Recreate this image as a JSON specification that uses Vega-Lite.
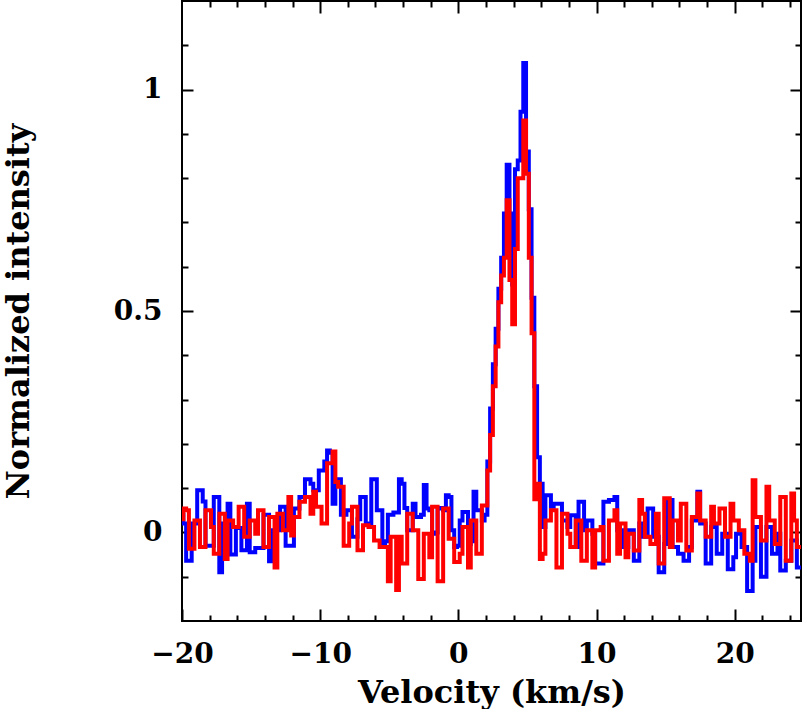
{
"$schema":"https://vega.github.io/schema/vega-lite/v6.json",
"width":619,"height":620,"autosize":"none",
"padding":{"left":182,"top":1,"right":3,"bottom":88},
"background":"white",
"config":{"view":{"stroke":"#000","strokeWidth":2},
"axis":{"domain":false,"grid":false,"tickColor":"#000","tickWidth":2,"labelColor":"#000","titleColor":"#000","labelFont":"DejaVu Serif","labelFontSize":28,"labelFontWeight":"bold","titleFont":"DejaVu Serif","titleFontSize":32,"titleFontWeight":"bold","labelFlush":false,"labelOverlap":false}},
"data":{"values":[
{"v":-20.0,"blue":0.04,"red":0.03},{"v":-19.8,"blue":0.02,"red":0.054},{"v":-19.6,"blue":-0.064,"red":0.05},{"v":-19.4,"blue":-0.064,"red":-0.037},{"v":-19.2,"blue":0.02,"red":-0.037},
{"v":-19.0,"blue":0.02,"red":0.027},{"v":-18.8,"blue":0.095,"red":0.027},{"v":-18.6,"blue":0.095,"red":-0.033},{"v":-18.4,"blue":0.07,"red":-0.033},{"v":-18.2,"blue":-0.03,"red":0.05},
{"v":-18.0,"blue":-0.03,"red":0.05},{"v":-17.8,"blue":-0.03,"red":0.012},{"v":-17.6,"blue":0.08,"red":-0.048},{"v":-17.4,"blue":0.08,"red":-0.048},{"v":-17.2,"blue":-0.09,"red":0.042},
{"v":-17.0,"blue":0.02,"red":0.042},{"v":-16.8,"blue":0.02,"red":-0.06},{"v":-16.6,"blue":0.065,"red":0.027},{"v":-16.4,"blue":-0.05,"red":0.027},{"v":-16.2,"blue":-0.05,"red":0.012},
{"v":-16.0,"blue":0.01,"red":0.012},{"v":-15.8,"blue":0.01,"red":0.058},{"v":-15.6,"blue":-0.04,"red":0.058},{"v":-15.4,"blue":-0.04,"red":-0.01},{"v":-15.2,"blue":0.065,"red":-0.01},
{"v":-15.0,"blue":-0.045,"red":0.027},{"v":-14.8,"blue":-0.045,"red":0.027},{"v":-14.6,"blue":-0.035,"red":-0.003},{"v":-14.4,"blue":-0.035,"red":0.05},{"v":-14.2,"blue":-0.035,"red":0.05},
{"v":-14.0,"blue":0.04,"red":-0.033},{"v":-13.8,"blue":0.04,"red":-0.033},{"v":-13.6,"blue":-0.065,"red":0.035},{"v":-13.4,"blue":0.005,"red":0.035},{"v":-13.2,"blue":0.005,"red":-0.079},
{"v":-13.0,"blue":0.005,"red":0.042},{"v":-12.8,"blue":0.058,"red":0.042},{"v":-12.6,"blue":0.058,"red":0.005},{"v":-12.4,"blue":-0.03,"red":0.005},{"v":-12.2,"blue":-0.03,"red":0.08},
{"v":-12.0,"blue":-0.03,"red":-0.007},{"v":-11.8,"blue":0.054,"red":0.035},{"v":-11.6,"blue":0.054,"red":0.035},{"v":-11.4,"blue":0.08,"red":0.069},{"v":-11.2,"blue":0.08,"red":0.069},
{"v":-11.0,"blue":0.12,"red":0.08},{"v":-10.8,"blue":0.12,"red":0.08},{"v":-10.6,"blue":0.11,"red":0.042},{"v":-10.4,"blue":0.095,"red":0.092},{"v":-10.2,"blue":0.095,"red":0.058},
{"v":-10.0,"blue":0.14,"red":0.058},{"v":-9.8,"blue":0.14,"red":0.02},{"v":-9.6,"blue":0.16,"red":0.02},{"v":-9.4,"blue":0.185,"red":0.156},{"v":-9.2,"blue":0.18,"red":0.156},
{"v":-9.0,"blue":0.065,"red":0.183},{"v":-8.8,"blue":0.12,"red":0.114},{"v":-8.6,"blue":0.12,"red":0.103},{"v":-8.4,"blue":0.04,"red":0.103},{"v":-8.2,"blue":0.04,"red":-0.03},
{"v":-8.0,"blue":0.05,"red":-0.03},{"v":-7.8,"blue":0.05,"red":0.02},{"v":-7.6,"blue":-0.01,"red":0.058},{"v":-7.4,"blue":-0.01,"red":0.058},{"v":-7.2,"blue":0.03,"red":-0.04},
{"v":-7.0,"blue":0.08,"red":-0.04},{"v":-6.8,"blue":0.08,"red":0.016},{"v":-6.6,"blue":0.02,"red":0.016},{"v":-6.4,"blue":0.02,"red":0.012},{"v":-6.2,"blue":0.12,"red":0.012},
{"v":-6.0,"blue":0.12,"red":-0.018},{"v":-5.8,"blue":0.05,"red":-0.018},{"v":-5.6,"blue":0.05,"red":-0.033},{"v":-5.4,"blue":-0.025,"red":-0.033},{"v":-5.2,"blue":-0.02,"red":-0.033},
{"v":-5.0,"blue":0.04,"red":-0.11},{"v":-4.8,"blue":0.04,"red":-0.01},{"v":-4.6,"blue":0.045,"red":-0.01},{"v":-4.4,"blue":0.045,"red":-0.13},{"v":-4.2,"blue":0.12,"red":-0.01},
{"v":-4.0,"blue":0.11,"red":-0.07},{"v":-3.8,"blue":0.055,"red":-0.07},{"v":-3.6,"blue":0.005,"red":0.042},{"v":-3.4,"blue":0.005,"red":0.042},{"v":-3.2,"blue":0.065,"red":0.005},
{"v":-3.0,"blue":0.035,"red":0.005},{"v":-2.8,"blue":0.035,"red":-0.105},{"v":-2.6,"blue":0.04,"red":-0.105},{"v":-2.4,"blue":0.107,"red":-0.003},{"v":-2.2,"blue":0.054,"red":-0.003},
{"v":-2.0,"blue":0.05,"red":-0.056},{"v":-1.8,"blue":-0.003,"red":0.058},{"v":-1.6,"blue":0.0,"red":0.058},{"v":-1.4,"blue":0.054,"red":-0.11},{"v":-1.2,"blue":0.055,"red":-0.11},
{"v":-1.0,"blue":0.05,"red":0.054},{"v":-0.8,"blue":0.084,"red":0.054},{"v":-0.6,"blue":0.08,"red":-0.014},{"v":-0.4,"blue":0.005,"red":-0.014},{"v":-0.2,"blue":-0.033,"red":-0.067},
{"v":0.0,"blue":-0.03,"red":-0.067},{"v":0.2,"blue":0.027,"red":-0.048},{"v":0.4,"blue":0.046,"red":0.012},{"v":0.6,"blue":0.046,"red":0.012},{"v":0.8,"blue":-0.026,"red":-0.079},
{"v":1.0,"blue":-0.02,"red":0.027},{"v":1.2,"blue":0.092,"red":0.027},{"v":1.4,"blue":0.05,"red":-0.048},{"v":1.6,"blue":0.05,"red":-0.048},{"v":1.8,"blue":0.027,"red":0.061},
{"v":2.0,"blue":0.04,"red":0.061},{"v":2.2,"blue":0.16,"red":0.14},{"v":2.4,"blue":0.28,"red":0.22},{"v":2.6,"blue":0.38,"red":0.33},{"v":2.8,"blue":0.46,"red":0.42},
{"v":3.0,"blue":0.55,"red":0.52},{"v":3.2,"blue":0.62,"red":0.58},{"v":3.4,"blue":0.72,"red":0.62},{"v":3.6,"blue":0.83,"red":0.75},{"v":3.8,"blue":0.72,"red":0.57},
{"v":4.0,"blue":0.56,"red":0.47},{"v":4.2,"blue":0.82,"red":0.64},{"v":4.4,"blue":0.84,"red":0.80},{"v":4.6,"blue":0.95,"red":0.80},{"v":4.8,"blue":1.06,"red":0.93},
{"v":5.0,"blue":0.86,"red":0.81},{"v":5.2,"blue":0.73,"red":0.62},{"v":5.4,"blue":0.53,"red":0.45},{"v":5.6,"blue":0.33,"red":0.075},{"v":5.8,"blue":0.17,"red":0.11},
{"v":6.0,"blue":0.11,"red":-0.06},{"v":6.2,"blue":0.012,"red":-0.048},{"v":6.4,"blue":0.084,"red":0.027},{"v":6.6,"blue":0.084,"red":0.027},{"v":6.8,"blue":0.058,"red":0.05},
{"v":7.0,"blue":0.065,"red":0.05},{"v":7.2,"blue":0.065,"red":-0.079},{"v":7.4,"blue":0.065,"red":-0.079},{"v":7.6,"blue":0.027,"red":0.042},{"v":7.8,"blue":0.027,"red":0.042},
{"v":8.0,"blue":0.012,"red":-0.003},{"v":8.2,"blue":0.039,"red":-0.033},{"v":8.4,"blue":0.039,"red":-0.033},{"v":8.6,"blue":-0.033,"red":0.027},{"v":8.8,"blue":0.069,"red":0.027},
{"v":9.0,"blue":0.069,"red":-0.064},{"v":9.2,"blue":0.005,"red":-0.064},{"v":9.4,"blue":0.027,"red":0.005},{"v":9.6,"blue":0.027,"red":0.005},{"v":9.8,"blue":-0.003,"red":-0.079},
{"v":10.0,"blue":-0.07,"red":0.005},{"v":10.2,"blue":-0.07,"red":0.005},{"v":10.4,"blue":-0.07,"red":0.012},{"v":10.6,"blue":0.069,"red":-0.064},{"v":10.8,"blue":0.069,"red":-0.064},
{"v":11.0,"blue":0.073,"red":0.027},{"v":11.2,"blue":0.073,"red":0.027},{"v":11.4,"blue":0.08,"red":0.05},{"v":11.6,"blue":0.005,"red":-0.048},{"v":11.8,"blue":0.005,"red":0.02},
{"v":12.0,"blue":-0.033,"red":0.02},{"v":12.2,"blue":-0.033,"red":-0.056},{"v":12.4,"blue":0.005,"red":-0.003},{"v":12.6,"blue":0.005,"red":-0.003},{"v":12.8,"blue":-0.064,"red":-0.041},
{"v":13.0,"blue":-0.064,"red":-0.041},{"v":13.2,"blue":0.02,"red":0.073},{"v":13.4,"blue":-0.01,"red":0.042},{"v":13.6,"blue":-0.01,"red":-0.01},{"v":13.8,"blue":0.054,"red":-0.01},
{"v":14.0,"blue":0.054,"red":-0.026},{"v":14.2,"blue":-0.01,"red":-0.026},{"v":14.4,"blue":-0.01,"red":0.042},{"v":14.6,"blue":-0.09,"red":-0.07},{"v":14.8,"blue":-0.09,"red":-0.07},
{"v":15.0,"blue":-0.026,"red":0.077},{"v":15.2,"blue":0.073,"red":0.077},{"v":15.4,"blue":0.073,"red":-0.033},{"v":15.6,"blue":-0.033,"red":0.027},{"v":15.8,"blue":-0.033,"red":0.027},
{"v":16.0,"blue":-0.048,"red":-0.018},{"v":16.2,"blue":-0.048,"red":0.065},{"v":16.4,"blue":-0.064,"red":0.065},{"v":16.6,"blue":-0.064,"red":-0.041},{"v":16.8,"blue":-0.033,"red":-0.041},
{"v":17.0,"blue":0.027,"red":0.035},{"v":17.2,"blue":0.027,"red":0.035},{"v":17.4,"blue":0.092,"red":0.088},{"v":17.6,"blue":0.02,"red":0.027},{"v":17.8,"blue":0.02,"red":0.027},
{"v":18.0,"blue":-0.07,"red":-0.01},{"v":18.2,"blue":-0.07,"red":-0.01},{"v":18.4,"blue":0.012,"red":0.058},{"v":18.6,"blue":0.012,"red":0.02},{"v":18.8,"blue":-0.048,"red":0.02},
{"v":19.0,"blue":-0.048,"red":0.054},{"v":19.2,"blue":-0.003,"red":0.054},{"v":19.4,"blue":-0.003,"red":-0.01},{"v":19.6,"blue":-0.083,"red":-0.01},{"v":19.8,"blue":-0.083,"red":0.065},
{"v":20.0,"blue":-0.056,"red":0.027},{"v":20.2,"blue":-0.003,"red":0.027},{"v":20.4,"blue":-0.003,"red":0.005},{"v":20.6,"blue":-0.033,"red":0.005},{"v":20.8,"blue":-0.033,"red":-0.048},
{"v":21.0,"blue":-0.132,"red":-0.048},{"v":21.2,"blue":-0.132,"red":-0.064},{"v":21.4,"blue":-0.064,"red":0.118},{"v":21.6,"blue":0.012,"red":0.035},{"v":21.8,"blue":0.012,"red":0.035},
{"v":22.0,"blue":-0.10,"red":-0.018},{"v":22.2,"blue":-0.10,"red":-0.018},{"v":22.4,"blue":0.012,"red":0.103},{"v":22.6,"blue":0.012,"red":0.027},{"v":22.8,"blue":-0.048,"red":0.027},
{"v":23.0,"blue":-0.048,"red":-0.026},{"v":23.2,"blue":-0.003,"red":-0.026},{"v":23.4,"blue":-0.086,"red":0.08},{"v":23.6,"blue":-0.086,"red":0.08},{"v":23.8,"blue":-0.064,"red":-0.064},
{"v":24.0,"blue":-0.064,"red":-0.064},{"v":24.2,"blue":-0.018,"red":0.088},{"v":24.4,"blue":-0.018,"red":0.027},{"v":24.6,"blue":-0.079,"red":-0.033},{"v":24.8,"blue":-0.079,"red":-0.033}
]},
"resolve":{"axis":{"x":"independent","y":"independent"}},
"layer":[
{"mark":{"type":"line","interpolate":"step","color":"#0000ff","strokeWidth":4,"clip":true},
"encoding":{
"x":{"field":"v","type":"quantitative","scale":{"domain":[-20,24.8],"nice":false,"zero":false},
"axis":{"orient":"bottom","title":"Velocity (km/s)","values":[-20,-18,-16,-14,-12,-10,-8,-6,-4,-2,0,2,4,6,8,10,12,14,16,18,20,22,24],
"labelExpr":"datum.value % 10 === 0 ? datum.label : ''","tickSize":{"condition":{"test":"datum.value % 10 === 0","value":-12},"value":-6},"labelPadding":31,"titlePadding":3}},
"y":{"field":"blue","type":"quantitative","scale":{"domain":[-0.2,1.2],"nice":false,"zero":false},
"axis":{"orient":"left","title":"Normalized intensity","values":[-0.1,0,0.1,0.2,0.3,0.4,0.5,0.6,0.7,0.8,0.9,1,1.1],
"labelExpr":"datum.value === 0 ? '0' : datum.value === 0.5 ? '0.5' : datum.value === 1 ? '1' : ''","tickSize":{"condition":{"test":"datum.value === 0 || datum.value === 0.5 || datum.value === 1","value":-11},"value":-6},"labelPadding":31,"titleX":-164,"titleBaseline":"middle"}}}},
{"mark":{"type":"line","interpolate":"step","color":"#ff0000","strokeWidth":4,"clip":true},
"encoding":{"x":{"field":"v","type":"quantitative","axis":null},"y":{"field":"red","type":"quantitative","axis":null}}},
{"mark":{"type":"line","interpolate":"step","color":"#0000ff","strokeOpacity":0,"clip":true},
"encoding":{
"x":{"field":"v","type":"quantitative","axis":{"orient":"top","title":null,"labels":false,"values":[-18,-16,-14,-12,-10,-8,-6,-4,-2,0,2,4,6,8,10,12,14,16,18,20,22,24],"tickSize":{"condition":{"test":"datum.value % 10 === 0","value":-12},"value":-6}}},
"y":{"field":"blue","type":"quantitative","axis":{"orient":"right","title":null,"labels":false,"values":[-0.1,0,0.1,0.2,0.3,0.4,0.5,0.6,0.7,0.8,0.9,1,1.1],"tickSize":{"condition":{"test":"datum.value === 0 || datum.value === 0.5 || datum.value === 1","value":-11},"value":-6}}}}}
]
}
